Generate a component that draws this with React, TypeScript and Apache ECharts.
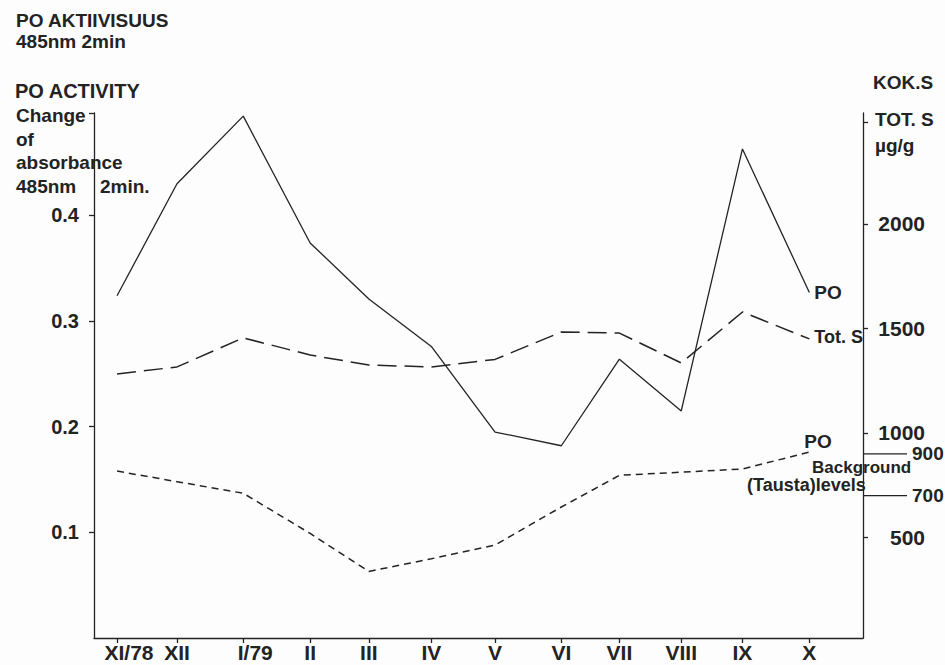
import React, { useEffect, useRef } from 'react';
import * as echarts from 'echarts';

// Sampling months (XI/78 .. X/79), position in months from the first sample
const monthLabels = ['XI/78', 'XII', 'I/79', 'II', 'III', 'IV', 'V', 'VI', 'VII', 'VIII', 'IX', 'X'];
const sampleMonth = [0, 0.95, 2.0, 3.06, 3.99, 4.98, 5.99, 7.04, 7.96, 8.94, 9.91, 10.97];

// PO activity, change of absorbance 485 nm / 2 min (left axis)
const poActivity = [0.324, 0.43, 0.494, 0.374, 0.321, 0.276, 0.195, 0.182, 0.264, 0.215, 0.463, 0.327];
// Total S, µg/g (right axis)
const totS = [1282, 1316, 1455, 1373, 1325, 1316, 1352, 1483, 1478, 1335, 1579, 1450];
// PO background (tausta) levels (left axis)
const poBackground = [0.158, 0.148, 0.137, 0.099, 0.063, 0.075, 0.088, 0.124, 0.154, 0.157, 0.16, 0.176];

const leftTicks = [0.1, 0.2, 0.3, 0.4];
const rightTicks = [500, 1000, 1500, 2000];
const backgroundLevels = [900, 700];

const X_MIN = -0.365;
const X_MAX = 11.82;
const LEFT_MAX = 0.497;
const RIGHT_MIN = 19;
const RIGHT_MAX = 2531;

export default function App() {
  const ref = useRef<HTMLDivElement>(null);

  useEffect(() => {
    const chart = echarts.init(ref.current!, null, { renderer: 'svg' });
    const font = "'Liberation Sans', Arial, Helvetica, sans-serif";
    const ink = '#232323';
    const axisStyle = { color: ink, width: 1.3 };

    const labelPos = sampleMonth.map((m, i) => (monthLabels[i].includes('/') ? m + 0.19 : m));
    const labelFor = (v: number) => {
      let best = 0;
      labelPos.forEach((p, i) => {
        if (Math.abs(p - v) < Math.abs(labelPos[best] - v)) best = i;
      });
      return monthLabels[best];
    };

    const txt = (text: string, x: number, y: number, size = 19) => ({
      type: 'text',
      x,
      y,
      silent: true,
      style: {
        text,
        fill: ink,
        fontSize: size,
        fontWeight: 'bold',
        fontFamily: font,
        verticalAlign: 'middle',
        align: 'left',
      },
    });

    const endLbl = (text: string, size: number, offset: number[]) => ({
      show: true,
      formatter: text,
      color: ink,
      fontSize: size,
      fontWeight: 'bold',
      fontFamily: font,
      distance: 5,
      offset,
    });

    const option: any = {
      animation: false,
      backgroundColor: '#fdfdfd',
      grid: { left: 94, right: 82, top: 113, bottom: 27 },
      xAxis: {
        type: 'value',
        min: X_MIN,
        max: X_MAX,
        axisLine: { show: true, onZero: false, lineStyle: axisStyle },
        axisTick: { show: true, length: 5, customValues: sampleMonth, lineStyle: axisStyle },
        axisLabel: {
          customValues: labelPos,
          formatter: (v: number) => labelFor(v),
          color: ink,
          fontSize: 21,
          fontWeight: 'bold',
          fontFamily: font,
          margin: 4,
        },
        splitLine: { show: false },
      },
      yAxis: [
        {
          type: 'value',
          position: 'left',
          min: 0,
          max: LEFT_MAX,
          axisLine: { show: true, onZero: false, lineStyle: axisStyle },
          axisTick: { show: true, length: 5, customValues: [...leftTicks, LEFT_MAX], lineStyle: axisStyle },
          axisLabel: {
            customValues: leftTicks,
            formatter: (v: number) => v.toFixed(1),
            color: ink,
            fontSize: 20,
            fontWeight: 'bold',
            fontFamily: font,
            margin: 15,
          },
          splitLine: { show: false },
        },
        {
          type: 'value',
          position: 'right',
          min: RIGHT_MIN,
          max: RIGHT_MAX,
          axisLine: { show: true, onZero: false, lineStyle: axisStyle },
          axisTick: { show: true, length: 5, customValues: [...rightTicks, 2488], lineStyle: axisStyle },
          axisLabel: {
            customValues: rightTicks,
            formatter: (v: number) => String(Math.round(v)),
            color: ink,
            fontSize: 21,
            fontWeight: 'bold',
            fontFamily: font,
            align: 'right',
            margin: 62,
          },
          splitLine: { show: false },
        },
      ],
      series: [
        {
          type: 'line',
          name: 'PO',
          yAxisIndex: 0,
          showSymbol: false,
          silent: true,
          data: sampleMonth.map((m, i) => [m, poActivity[i]]),
          lineStyle: { color: ink, width: 1.3, type: 'solid' },
          endLabel: endLbl('PO', 19, [0, 0]),
        },
        {
          type: 'line',
          name: 'Tot. S',
          yAxisIndex: 1,
          showSymbol: false,
          silent: true,
          data: sampleMonth.map((m, i) => [m, totS[i]]),
          lineStyle: { color: ink, width: 1.5, type: [19, 8] },
          endLabel: endLbl('Tot. S', 18, [0, -2]),
        },
        {
          type: 'line',
          name: 'PO background',
          yAxisIndex: 0,
          showSymbol: false,
          silent: true,
          data: sampleMonth.map((m, i) => [m, poBackground[i]]),
          lineStyle: { color: ink, width: 1.5, type: [7, 5] },
          endLabel: endLbl('PO', 19, [-10, -11]),
        },
      ],
    };

    chart.setOption(option);

    const axisX = chart.convertToPixel({ xAxisIndex: 0 }, X_MAX) as number;
    const levelGraphics: any[] = [];
    backgroundLevels.forEach((v) => {
      const y = chart.convertToPixel({ yAxisIndex: 1 }, v) as number;
      levelGraphics.push({
        type: 'line',
        silent: true,
        shape: { x1: axisX, y1: y, x2: axisX + 44, y2: y },
        style: { stroke: ink, lineWidth: 1.3 },
      });
      levelGraphics.push(txt(String(v), axisX + 49, y, 19));
    });

    chart.setOption({
      graphic: [
        txt('PO AKTIIVISUUS', 16, 20.5),
        txt('485nm 2min', 16, 41),
        txt('PO ACTIVITY', 15, 91, 20),
        txt('Change', 16, 115.5),
        txt('of', 16, 139),
        txt('absorbance', 16, 162),
        txt('485nm', 16, 186),
        txt('2min.', 100, 186),
        txt('KOK.S', 873, 82.5),
        txt('TOT. S', 875, 119.5),
        txt('µg/g', 875, 145),
        txt('Background', 812, 467, 17),
        txt('(Tausta)levels', 747, 485, 18),
        ...levelGraphics,
      ],
    });

    return () => chart.dispose();
  }, []);

  return <div ref={ref} style={{ position: 'fixed', left: 0, top: 0, width: 945, height: 665 }} />;
}
